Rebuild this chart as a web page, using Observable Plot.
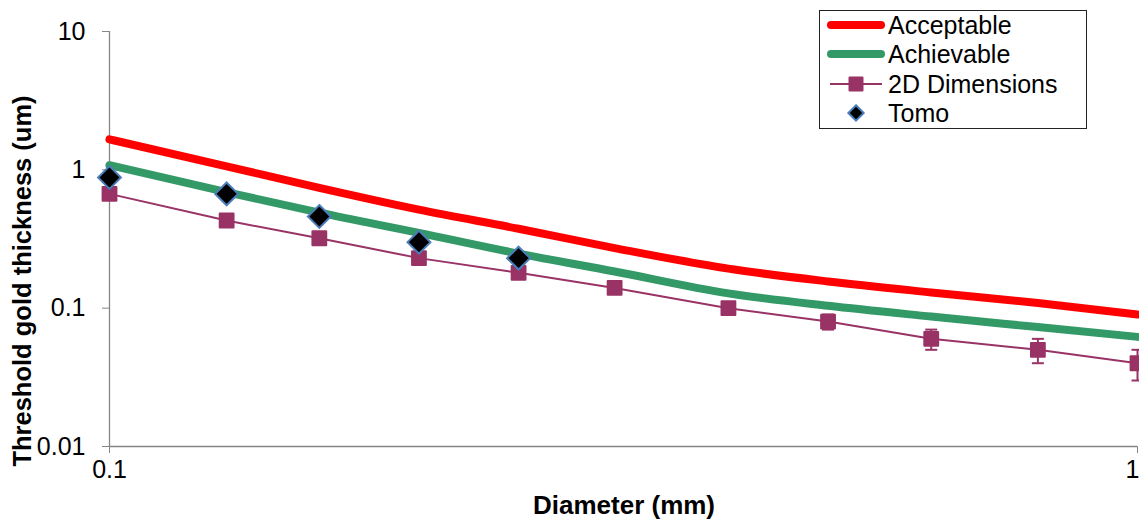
<!DOCTYPE html>
<html>
<head>
<meta charset="utf-8">
<script src="https://cdn.jsdelivr.net/npm/d3@7"></script>
<script src="https://cdn.jsdelivr.net/npm/@observablehq/plot@0.6"></script>
<style>
  html, body { margin: 0; padding: 0; background: white; overflow: hidden; }
  #chart svg { display: block; }
</style>
</head>
<body>
<div id="chart"></div>
<script>
// ---- data ----
const diameter   = [0.1, 0.13, 0.16, 0.2, 0.25, 0.31, 0.4, 0.5, 0.63, 0.8, 1];
const acceptable = [1.66, 1.06, 0.74, 0.515, 0.375, 0.272, 0.193, 0.156, 0.13, 0.109, 0.09];
const achievable = [1.08, 0.69, 0.49, 0.35, 0.248, 0.184, 0.128, 0.104, 0.087, 0.073, 0.062];
const dims2D     = [0.67, 0.43, 0.32, 0.23, 0.18, 0.14, 0.10, 0.08, 0.06, 0.05, 0.04];
const dims2DErr  = [0.01, 0.01, 0.01, 0.01, 0.01, 0.01, 0.01, 0.01, 0.01, 0.01, 0.01];
const tomoDiameter = [0.1, 0.13, 0.16, 0.2, 0.25];
const tomo         = [0.88, 0.67, 0.46, 0.30, 0.23];
const xTicks = [0.1, 1];
const yTicks = [0.01, 0.1, 1, 10];
const seriesNames = ["Acceptable", "Achievable", "2D Dimensions", "Tomo"];
const xTitle = "Diameter (mm)";
const yTitle = "Threshold gold thickness (um)";

const RED = "#FF0000", GREEN = "#339966", PLUM = "#993366", TOMO_STROKE = "#4A7EBB", AXIS = "#868686";
const FONT = "'Liberation Sans', Arial, Helvetica, sans-serif";

const curveRows = diameter.map((d, i) => ({d, acc: acceptable[i], ach: achievable[i]}));
const dimRows = diameter.map((d, i) => ({d, v: dims2D[i], lo: dims2D[i] - dims2DErr[i], hi: dims2D[i] + dims2DErr[i]}));
const tomoRows = tomoDiameter.map((d, i) => ({d, v: tomo[i]}));

const capSymbol = { draw(ctx) { ctx.moveTo(-6, 0); ctx.lineTo(6, 0); } };
const fmt = d => String(d);

const chart = Plot.plot({
  width: 1139,
  height: 520,
  marginLeft: 109,
  marginRight: 2,
  marginTop: 31,
  marginBottom: 74,
  style: { fontFamily: FONT, fontSize: "25px", background: "white", color: "black" },
  x: { type: "log", domain: [0.1, 1] },
  y: { type: "log", domain: [0.01, 10] },
  marks: [
    Plot.ruleX([0.1], { stroke: AXIS, strokeWidth: 1.3 }),
    Plot.ruleY([0.01], { stroke: AXIS, strokeWidth: 1.3 }),
    // x ticks (marks only) and labels
    Plot.axisX(xTicks, { tickSize: 7, stroke: AXIS, text: null, label: null }),
    Plot.text(xTicks.slice(0, 1), { x: d => d, frameAnchor: "bottom", dy: 31, text: fmt, fill: "black", fontSize: 25, textAnchor: "middle" }),
    Plot.text(xTicks.slice(1), { x: d => d, frameAnchor: "bottom", dy: 31, dx: 2, text: fmt, fill: "black", fontSize: 25, textAnchor: "end" }),
    Plot.axisY(yTicks, { tickSize: 7, tickPadding: 17, stroke: AXIS, fill: "black", fontSize: 25, tickFormat: fmt, label: null }),
    Plot.line(curveRows, { x: "d", y: "acc", stroke: RED, strokeWidth: 8, curve: "monotone-x" }),
    Plot.line(curveRows, { x: "d", y: "ach", stroke: GREEN, strokeWidth: 8, curve: "monotone-x" }),
    Plot.line(dimRows, { x: "d", y: "v", stroke: PLUM, strokeWidth: 2 }),
    Plot.ruleX(dimRows, { x: "d", y1: "lo", y2: "hi", stroke: PLUM, strokeWidth: 2 }),
    Plot.dot(dimRows, { x: "d", y: "lo", symbol: capSymbol, stroke: PLUM, strokeWidth: 2, r: 3 }),
    Plot.dot(dimRows, { x: "d", y: "hi", symbol: capSymbol, stroke: PLUM, strokeWidth: 2, r: 3 }),
    Plot.dot(dimRows, { x: "d", y: "v", symbol: "square", r: 7.8, fill: PLUM, stroke: PLUM, strokeWidth: 2, strokeLinejoin: "round" }),
    Plot.dot(tomoRows, { x: "d", y: "v", symbol: "diamond2", r: 10.3, fill: "black", stroke: TOMO_STROKE, strokeWidth: 2 })
  ]
});

document.getElementById("chart").appendChild(chart);

// ---- titles & legend ----
const svg = d3.select(chart);
svg.append("text")
  .attr("transform", "translate(22,281) rotate(-90)")
  .attr("text-anchor", "middle")
  .attr("dominant-baseline", "central")
  .attr("font-family", FONT).attr("font-size", 25.5).attr("font-weight", "bold")
  .attr("fill", "black")
  .text(yTitle);
svg.append("text")
  .attr("x", 624).attr("y", 514)
  .attr("text-anchor", "middle")
  .attr("font-family", FONT).attr("font-size", 26).attr("font-weight", "bold")
  .attr("fill", "black")
  .text(xTitle);

const lg = svg.append("g").attr("text-anchor", "start");
lg.append("rect").attr("x", 819.5).attr("y", 10.5).attr("width", 267).attr("height", 118)
  .attr("fill", "white").attr("stroke", "#222").attr("stroke-width", 1);
const rowY = [25, 54, 84, 113];
// Acceptable
lg.append("line").attr("x1", 831).attr("x2", 881).attr("y1", rowY[0]).attr("y2", rowY[0])
  .attr("stroke", RED).attr("stroke-width", 8).attr("stroke-linecap", "round");
// Achievable
lg.append("line").attr("x1", 831).attr("x2", 881).attr("y1", rowY[1]).attr("y2", rowY[1])
  .attr("stroke", GREEN).attr("stroke-width", 8).attr("stroke-linecap", "round");
// 2D Dimensions
lg.append("line").attr("x1", 830).attr("x2", 882).attr("y1", rowY[2]).attr("y2", rowY[2])
  .attr("stroke", PLUM).attr("stroke-width", 2);
lg.append("path").attr("transform", `translate(856,${rowY[2]})`)
  .attr("d", d3.symbol(d3.symbolSquare, 169)())
  .attr("fill", PLUM).attr("stroke", PLUM).attr("stroke-width", 2).attr("stroke-linejoin", "round");
// Tomo
lg.append("path").attr("transform", `translate(856,${rowY[3]})`)
  .attr("d", d3.symbol(d3.symbolDiamond2, 150)())
  .attr("fill", "black").attr("stroke", TOMO_STROKE).attr("stroke-width", 2);
seriesNames.forEach((name, i) => {
  lg.append("text").attr("x", 888).attr("y", rowY[i]).attr("dy", "0.35em")
    .attr("text-anchor", "start")
    .attr("font-family", FONT).attr("font-size", 25).attr("fill", "black")
    .text(name);
});
</script>
</body>
</html>
